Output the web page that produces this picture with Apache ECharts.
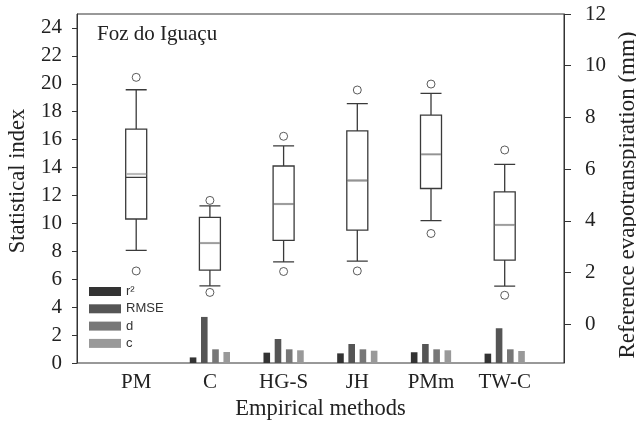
<!DOCTYPE html>
<html>
<head>
<meta charset="utf-8">
<script src="https://cdn.jsdelivr.net/npm/echarts@6/dist/echarts.min.js"></script>
<style>
  html, body { margin: 0; padding: 0; background: #fff; overflow: hidden; }
  #chart { width: 636px; height: 428px; }
</style>
</head>
<body>
<div id="chart"></div>
<script>
// categories and values
var methods = ['PM', 'C', 'HG-S', 'JH', 'PMm', 'TW-C'];

// boxplots, right axis (mm): [lower whisker, Q1, median, Q3, upper whisker]
var boxes = [
  [2.86, 4.07, 5.68, 7.55, 9.07],
  [1.48, 2.09, 3.14, 4.13, 4.58],
  [2.41, 3.24, 4.65, 6.12, 6.90],
  [2.44, 3.64, 5.56, 7.48, 8.53],
  [4.01, 5.25, 6.57, 8.09, 8.93],
  [1.47, 2.48, 3.84, 5.12, 6.18]
];
var means = [5.81, 3.14, 4.65, 5.56, 6.57, 3.84];
var outlierHigh = [9.55, 4.79, 7.27, 9.06, 9.29, 6.74];
var outlierLow = [2.06, 1.23, 2.04, 2.06, 3.51, 1.12];

// statistical indices, left axis
var r2 = [null, 0.40, 0.74, 0.69, 0.77, 0.67];
var rmse = [null, 3.30, 1.72, 1.36, 1.36, 2.49];
var dIdx = [null, 0.98, 0.98, 0.98, 0.98, 0.98];
var cIdx = [null, 0.79, 0.91, 0.88, 0.91, 0.86];

var leftTicks = [0, 2, 4, 6, 8, 10, 12, 14, 16, 18, 20, 22, 24];
var rightTicks = [0, 2, 4, 6, 8, 10, 12];

var serif = 'Liberation Serif';
var ink = '#222';

function points(vals) {
  return vals.map(function(v, i) { return [i, v]; });
}

function barSeries(name, vals, color) {
  return {
    name: name, type: 'bar', xAxisIndex: 1, yAxisIndex: 1,
    data: vals, barWidth: 6.6, barGap: '70%',
    itemStyle: { color: color }
  };
}

var chart = echarts.init(document.getElementById('chart'));

chart.setOption({
  animation: false,
  title: {
    text: 'Foz do Iguaçu', left: 97, top: 24, padding: 0,
    textStyle: { fontFamily: serif, fontSize: 21, fontWeight: 'normal', color: ink }
  },
  legend: {
    data: ['r²', 'RMSE', 'd', 'c'],
    orient: 'vertical', left: 89, top: 285, padding: 0,
    icon: 'rect', itemWidth: 32, itemHeight: 9, itemGap: 4.3,
    textStyle: { fontFamily: 'Liberation Sans', fontSize: 13, lineHeight: 13, color: '#333' }
  },
  grid: [
    // frame
    { left: 77, right: 72, top: 14, bottom: 65, outerBoundsMode: 'none',
      show: true, borderColor: '#333', borderWidth: 1 },
    // plotting area
    { left: 99.35, right: 94.45, top: 14, bottom: 65, outerBoundsMode: 'none' }
  ],
  xAxis: [
    { gridIndex: 0, type: 'value', show: false },
    {
      gridIndex: 1, type: 'category', data: methods,
      name: 'Empirical methods', nameLocation: 'middle', nameGap: 35,
      nameTextStyle: { fontFamily: serif, fontSize: 22.5, color: ink },
      axisLine: { show: false },
      axisTick: { alignWithLabel: true, length: 6, lineStyle: { color: '#333' } },
      axisLabel: { fontFamily: serif, fontSize: 21, color: ink, margin: 9 }
    }
  ],
  yAxis: [
    { gridIndex: 0, type: 'value', show: false },
    {
      gridIndex: 1, type: 'value', position: 'left', offset: 22.35,
      min: 0, max: 25,
      name: 'Statistical index', nameLocation: 'middle', nameGap: 47, nameRotate: 90,
      nameTextStyle: { fontFamily: serif, fontSize: 22.5, color: ink, padding: [0, 0, 0, 15] },
      axisLine: { show: true, lineStyle: { color: '#333' } },
      axisTick: { show: true, length: 5, customValues: leftTicks, lineStyle: { color: '#333' } },
      axisLabel: { customValues: leftTicks, fontFamily: serif, fontSize: 21, color: ink, margin: 15 },
      splitLine: { show: false }
    },
    {
      gridIndex: 1, type: 'value', position: 'right', offset: 22.45,
      min: -1.5, max: 12,
      name: 'Reference evapotranspiration (mm)', nameLocation: 'middle', nameGap: 52, nameRotate: 90,
      nameTextStyle: { fontFamily: serif, fontSize: 23, color: ink, padding: [0, 13, 0, 0] },
      axisLine: { show: true, lineStyle: { color: '#333' } },
      axisTick: { show: true, length: 7, customValues: rightTicks, lineStyle: { color: '#333' } },
      axisLabel: { customValues: rightTicks, fontFamily: serif, fontSize: 21, color: ink, margin: 21 },
      splitLine: { show: false }
    }
  ],
  series: [
    barSeries('r²', r2, '#333'),
    barSeries('RMSE', rmse, '#555'),
    barSeries('d', dIdx, '#777'),
    barSeries('c', cIdx, '#999'),
    {
      type: 'boxplot', xAxisIndex: 1, yAxisIndex: 2,
      data: boxes, boxWidth: [21, 21],
      itemStyle: { color: '#fff', borderColor: '#3a3a3a', borderWidth: 1.3 }
    },
    {
      // grey mean line inside each box
      type: 'scatter', xAxisIndex: 1, yAxisIndex: 2,
      data: points(means),
      symbol: 'rect', symbolSize: [20, 2.2],
      itemStyle: { color: '#aaa' }
    },
    {
      type: 'scatter', xAxisIndex: 1, yAxisIndex: 2,
      data: points(outlierHigh).concat(points(outlierLow)),
      symbol: 'circle', symbolSize: 8,
      itemStyle: { color: '#fff', borderColor: '#333', borderWidth: 1 }
    }
  ]
});
</script>
</body>
</html>
